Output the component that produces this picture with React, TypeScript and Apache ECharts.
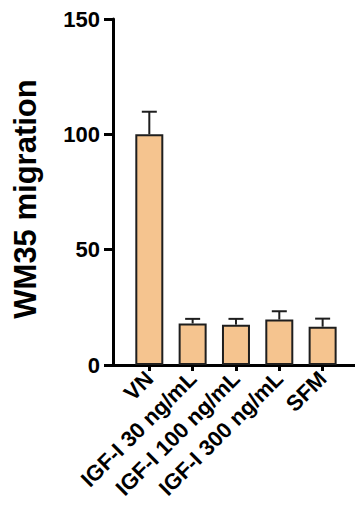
import React, { useEffect, useRef } from "react";
import * as echarts from "echarts";

const categories = ["VN", "IGF-I 30 ng/mL", "IGF-I 100 ng/mL", "IGF-I 300 ng/mL", "SFM"];
const means = [100, 18, 17.5, 19.7, 16.6];
const errTops = [109.8, 20, 20, 23.3, 20.1];
const yTicks = [0, 50, 100, 150];

const FONT = "Liberation Sans";
const positions = categories.map((_, i) => i);

export default function App() {
  const ref = useRef<HTMLDivElement>(null);
  useEffect(() => {
    if (!ref.current) return;
    const chart = echarts.init(ref.current, null, { renderer: "svg" });
    chart.setOption({
      animation: false,
      grid: { left: 113, right: 0, top: 19, bottom: 150 },
      xAxis: {
        type: "value",
        min: -0.838,
        max: 4.747,
        splitLine: { show: true, lineStyle: { color: "rgba(0,0,0,0)", width: 0 } },
        axisLine: { show: true, onZero: false, lineStyle: { color: "#000", width: 3 } },
        axisTick: { show: true, customValues: positions, length: 6, lineStyle: { color: "#000", width: 3 } },
        axisLabel: {
          customValues: positions,
          formatter: (v: number) => categories[Math.round(v)] ?? "",
          rotate: 45,
          margin: 10,
          color: "#000",
          fontFamily: FONT,
          fontWeight: "bold",
          fontSize: 22,
        },
      },
      yAxis: {
        type: "value",
        min: yTicks[0],
        max: yTicks[yTicks.length - 1],
        interval: 50,
        name: "WM35 migration",
        nameLocation: "middle",
        nameGap: 72,
        nameRotate: 90,
        nameTextStyle: { color: "#000", fontFamily: FONT, fontWeight: "bold", fontSize: 31, padding: [0, 14, 0, 0] },
        splitLine: { show: true, lineStyle: { color: "rgba(0,0,0,0)", width: 0 } },
        axisLine: { show: true, onZero: false, lineStyle: { color: "#000", width: 3 } },
        axisTick: { show: true, length: 9, lineStyle: { color: "#000", width: 3 } },
        axisLabel: { color: "#000", fontFamily: FONT, fontWeight: "bold", fontSize: 22, margin: 13 },
      },
      series: [
        {
          type: "bar",
          data: means.map((m, i) => [positions[i], m]),
          barWidth: 28,
          itemStyle: { color: "#F5C48F", borderColor: "#1e1e1e", borderWidth: 2 },
        },
        {
          type: "custom",
          data: categories.map((_, i) => [positions[i], means[i], errTops[i]]),
          renderItem: (params: any, api: any) => {
            const base = api.coord([api.value(0), api.value(1)]);
            const top = api.coord([api.value(0), api.value(2)]);
            const hw = 7.5;
            return {
              type: "group",
              children: [
                { type: "line", shape: { x1: base[0], y1: base[1], x2: top[0], y2: top[1] }, style: { stroke: "#1e1e1e", lineWidth: 2 } },
                { type: "line", shape: { x1: top[0] - hw, y1: top[1], x2: top[0] + hw, y2: top[1] }, style: { stroke: "#1e1e1e", lineWidth: 2 } },
              ],
            };
          },
        },
      ],
    });
    return () => chart.dispose();
  }, []);
  return <div ref={ref} style={{ width: 355, height: 515, position: "absolute", left: 0, top: 0 }} />;
}
